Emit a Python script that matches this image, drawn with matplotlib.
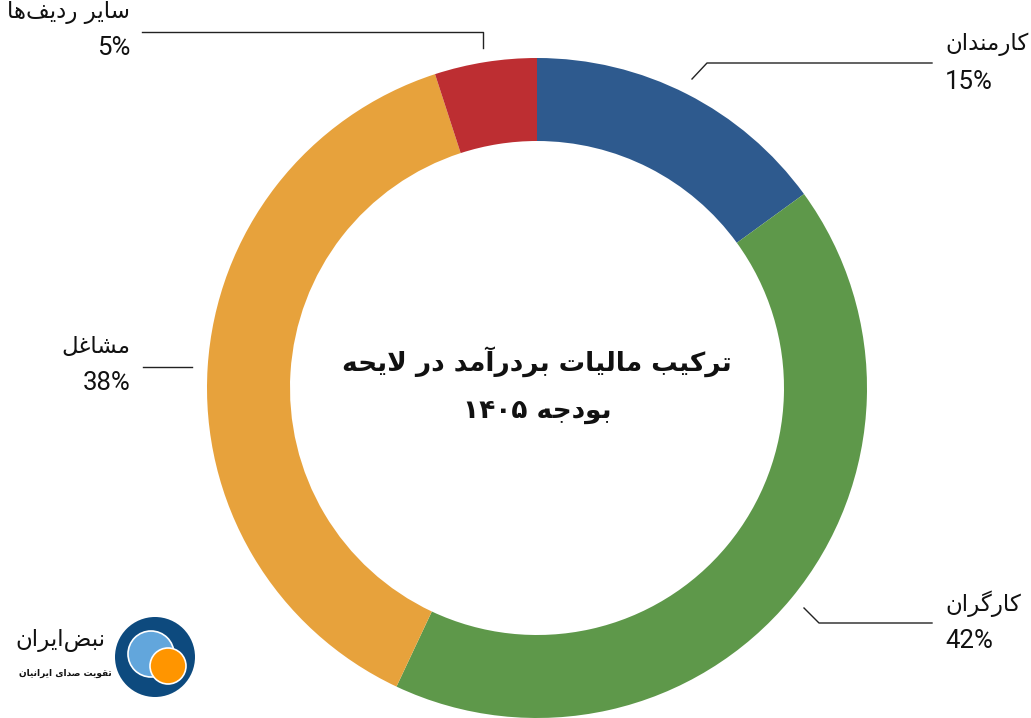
import matplotlib
matplotlib.use("Agg")
import matplotlib.pyplot as plt
from matplotlib.patches import Circle

# data
labels = ["کارمندان", "کارگران", "مشاغل", "سایر ردیف‌ها"]
shares = [15, 42, 38, 5]
colors = ["#2e5a8e", "#5e984a", "#e7a23c", "#bd2e32"]
title_lines = ["ترکیب مالیات بردرآمد در لایحه", "بودجه ۱۴۰۵"]
brand = "نبض‌ایران"
slogan = "تقویت صدای ایرانیان"

# --- tiny persian shaper (no arabic_reshaper available) ---
_right = {"ا": 0xFE8D, "آ": 0xFE81, "د": 0xFEA9, "ر": 0xFEAD, "و": 0xFEED}
_dual = {"ب": 0xFE8F, "ت": 0xFE95, "ج": 0xFE9D, "ح": 0xFEA1, "س": 0xFEB1,
         "ش": 0xFEB5, "ص": 0xFEB9, "ض": 0xFEBD, "غ": 0xFECD, "ف": 0xFED1,
         "ق": 0xFED5, "ل": 0xFEDD, "م": 0xFEE1, "ن": 0xFEE5, "ه": 0xFEE9,
         "ک": 0xFB8E, "گ": 0xFB92, "ی": 0xFBFC}


def shape(s):
    out = []
    i = 0
    n = len(s)
    while i < n:
        c = s[i]
        prev = s[i - 1] if i > 0 else ""
        nxt = s[i + 1] if i + 1 < n else ""
        cp = prev in _dual
        if c == "ل" and nxt == "ا":
            out.append(chr(0xFEFC if cp else 0xFEFB))
            i += 2
            continue
        if c in _right:
            out.append(chr(_right[c] + (1 if cp else 0)))
        elif c in _dual:
            cn = nxt in _dual or nxt in _right
            b = _dual[c]
            if cp and cn:
                out.append(chr(b + 3))
            elif cp:
                out.append(chr(b + 1))
            elif cn:
                out.append(chr(b + 2))
            else:
                out.append(chr(b))
        elif c != "\u200c":
            out.append(c)
        i += 1
    # visual order: reverse, keep digit runs left-to-right
    tokens = []
    for ch in out:
        isnum = ch.isdigit()
        if tokens and tokens[-1][0] == isnum and isnum:
            tokens[-1][1].append(ch)
        else:
            tokens.append((isnum, [ch]))
    return "".join("".join(t[1]) for t in reversed(tokens))


FA = ["DejaVu Sans"]
LAT = ["Roboto", "DejaVu Sans"]

W, H = 1031, 718
fig = plt.figure(figsize=(W / 100, H / 100), dpi=100)
ax = fig.add_axes([0, 0, 1, 1])


def Y(y):
    return H - y


cx, cy, R = 537, 388, 330
ax.pie(shares, colors=colors, startangle=90, counterclock=False, radius=R,
       center=(cx, Y(cy)), wedgeprops=dict(width=83, linewidth=0))

ax.set_xlim(0, W)
ax.set_ylim(0, H)
ax.set_aspect("equal")
ax.axis("off")

# leader lines
lc = "#222222"
ax.plot([692, 707, 932], [Y(79), Y(63), Y(63)], color=lc, lw=1)
ax.plot([804, 819, 932], [Y(608), Y(623), Y(623)], color=lc, lw=1)
ax.plot([143, 192], [Y(367), Y(367)], color=lc, lw=1)
ax.plot([142, 483, 483], [Y(32), Y(32), Y(48)], color=lc, lw=1)

# labels: (x, name y, pct y, ha)
pos = [(945, 44, 82, "left"), (945, 604, 641, "left"),
       (130, 346, 383, "right"), (130, 13, 48, "right")]
for (x, yn, yp, ha), lab, v in zip(pos, labels, shares):
    ax.text(x, Y(yn), shape(lab), ha=ha, va="center", fontsize=16.5,
            family=FA, color="#111111")
    ax.text(x, Y(yp), f"{v}%", ha=ha, va="center", fontsize=18.5,
            family=LAT, color="#111111")

# centre title
ax.text(cx, Y(362), shape(title_lines[0]), ha="center", va="center",
        fontsize=19, fontweight="bold", family=FA, color="#111111")
ax.text(cx, Y(411), shape(title_lines[1]), ha="center", va="center",
        fontsize=19, fontweight="bold", family=FA, color="#111111")

# logo
ax.add_patch(Circle((155, Y(657)), 40, color="#0d4a7e", lw=0))
ax.add_patch(Circle((151, Y(654)), 23, facecolor="#62a6dc", edgecolor="white", lw=1.2))
ax.add_patch(Circle((168, Y(666)), 18, facecolor="#ff9500", edgecolor="white", lw=1.2))
ax.text(105, Y(640), shape(brand), ha="right", va="center", fontsize=16.5,
        family=FA, color="#111111")
ax.text(112, Y(673), shape(slogan), ha="right", va="center", fontsize=6.5,
        fontweight="bold", family=FA, color="#111111")

fig.savefig("out.png", dpi=100, facecolor="white")
